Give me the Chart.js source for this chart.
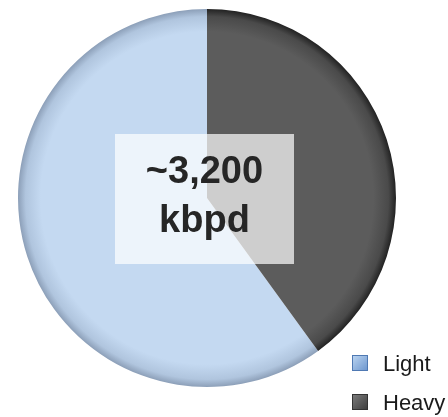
<!DOCTYPE html>
<html><head><meta charset="utf-8">
<script src="https://cdn.jsdelivr.net/npm/chart.js@4/dist/chart.umd.min.js"></script>
<style>
html,body{margin:0;padding:0;background:#fff;}
#wrap{position:relative;width:448px;height:417px;}
canvas{position:absolute;left:0;top:0;}
#center{position:absolute;left:115px;top:134px;width:179px;height:130px;background:rgba(255,255,255,0.7);
 font-family:"Liberation Sans",Arial,sans-serif;font-weight:bold;font-size:38px;color:#262626;text-align:center;
 line-height:49px;box-sizing:border-box;padding-top:12px;}
.leg{position:absolute;left:352px;font-family:"Liberation Sans",Arial,sans-serif;font-size:22px;color:#1a1a1a;white-space:nowrap;}
.sw{position:absolute;left:0;width:16px;height:16px;box-sizing:border-box;}
.lt{position:absolute;left:31px;}
</style></head><body>
<div id="wrap">
<canvas id="c" width="448" height="417"></canvas>
<div id="center"></div>
<div id="legend"></div>
</div>
<script>
const categories = ['Light', 'Heavy'];
const values = [60, 40];
const centerLabel = ['~3,200', 'kbpd'];

const baseCols = ['#c4d9f1', '#5c5c5c'];
const rimCols = ['#8c9fb8', '#222222'];
const legendFill = ['linear-gradient(135deg,#b9d3f0,#6f98cf)', 'linear-gradient(135deg,#7a7a7a,#3f3f3f)'];
const legendBorder = ['#4f79b3', '#333333'];

document.getElementById('center').innerHTML = centerLabel.join('<br>');
const leg = document.getElementById('legend');
const legTops = [355, 394];
categories.forEach((c, i) => {
  const d = document.createElement('div');
  d.className = 'leg';
  d.style.top = legTops[i] + 'px';
  d.innerHTML = '<div class="sw" style="background:' + legendFill[i] + ';border:1px solid ' + legendBorder[i] + '"></div><div class="lt" style="top:-4px">' + c + '</div>';
  leg.appendChild(d);
});

const total = values.reduce((a, b) => a + b, 0);
const rotation = 360 * values[1] / total;

function grad(ctx, i) {
  const chart = ctx.chart;
  const area = chart.chartArea;
  if (!area) return baseCols[i];
  const cx = (area.left + area.right) / 2, cy = (area.top + area.bottom) / 2;
  const r = Math.min(area.right - area.left, area.bottom - area.top) / 2;
  const g = chart.ctx.createRadialGradient(cx, cy, 0, cx, cy, r);
  g.addColorStop(0, baseCols[i]);
  g.addColorStop(0.88, baseCols[i]);
  g.addColorStop(0.96, i === 0 ? '#b0c5de' : '#4a4a4a');
  g.addColorStop(1, rimCols[i]);
  return g;
}

new Chart(document.getElementById('c'), {
  type: 'pie',
  data: {
    labels: categories,
    datasets: [{
      data: values,
      backgroundColor: (ctx) => grad(ctx, ctx.dataIndex),
      borderWidth: 0
    }]
  },
  options: {
    responsive: false,
    animation: false,
    rotation: rotation,
    layout: { padding: { left: 17, top: 9, right: 51, bottom: 30 } },
    plugins: { legend: { display: false }, tooltip: { enabled: false } }
  }
});
</script>
</body></html>
